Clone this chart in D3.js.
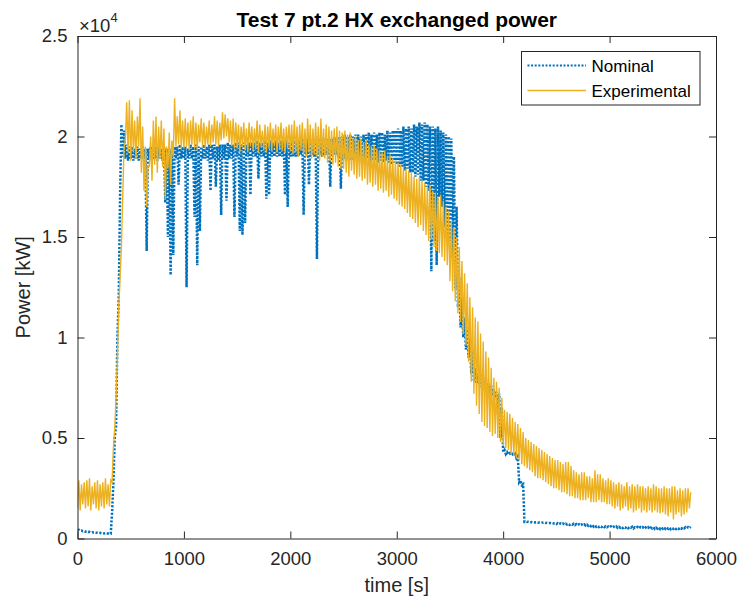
<!DOCTYPE html>
<html>
<head>
<meta charset="utf-8">
<script src="https://cdn.jsdelivr.net/npm/d3@7"></script>
<style>
  body { margin: 0; background: #fff; }
  svg { font-family: "Liberation Sans", Arial, Helvetica, sans-serif; }
</style>
</head>
<body>
<div id="chart"></div>
<script>
// both series are read in 25 s bins: the low and the high value seen in each bin
const timeStep = 25;

// Nominal HX power [kW]
const nominalLow = [
  420, 390, 360, 340, 320, 305, 295, 285, 275, 265, 255, 245, 235, 1300, 5000, 10000, 17000, 19000, 18900, 18800,
  18900, 18800, 18900, 18800, 18900, 18900, 14300, 18900, 18800, 18900, 18800, 18900, 18800, 16700, 15000, 13100, 14100, 18900, 17600, 18900,
  18900, 12500, 18900, 18900, 16000, 13600, 15300, 18900, 18900, 18800, 17300, 18900, 17500, 18800, 16100, 18900, 16800, 18900, 18900, 16000,
  19000, 15300, 15100, 15700, 19000, 17100, 19000, 19000, 17900, 19000, 19000, 16900, 17100, 19000, 19000, 19000, 19000, 19000, 17100, 16500,
  19000, 19000, 19000, 19000, 19100, 16100, 19100, 17600, 19100, 19000, 13900, 19100, 19000, 19100, 19100, 17500, 19100, 19100, 19000, 17400,
  18900, 18800, 18900, 18800, 18900, 18800, 18900, 18700, 18800, 18900, 18700, 18800, 18800, 18700, 18800, 18700, 18800, 18700, 18600, 18700,
  18600, 18500, 18500, 18300, 18400, 18200, 18200, 18000, 18100, 17800, 17800, 17500, 17300, 13300, 14800, 13600, 17000, 16500, 15500, 15000,
  14800, 14000, 12400, 11500, 10500, 10000, 9400, 9000, 8200, 7800, 7700, 7700, 7500, 7400, 7300, 7200, 7100, 7000, 6200, 5000,
  4300, 4200, 4200, 4150, 4100, 4000, 2800, 2650, 830, 820, 810, 800, 800, 790, 790, 780, 770, 770, 760, 750,
  720, 710, 710, 700, 700, 680, 690, 670, 660, 660, 650, 640, 630, 610, 590, 580, 570, 570, 560, 560,
  550, 540, 550, 530, 540, 520, 530, 510, 530, 500, 520, 500, 510, 490, 500, 480, 500, 480, 490, 470,
  480, 470, 480, 460, 480, 470, 480, 490, 500, 510, 520
];
const nominalHigh = [
  430, 400, 370, 350, 330, 315, 300, 290, 280, 270, 260, 250, 240, 2800, 5600, 12000, 20600, 20300, 19600, 19500,
  19500, 19400, 19500, 19400, 19500, 19400, 19400, 19500, 19400, 19500, 19500, 19400, 19500, 19400, 19400, 19300, 19500, 19500, 19600, 19500,
  19500, 19400, 19600, 19500, 19600, 19500, 19500, 19600, 19500, 19600, 19600, 19600, 19500, 19600, 19600, 19600, 19700, 19600, 19600, 19700,
  19700, 19600, 19700, 19600, 19700, 19700, 19700, 19800, 19700, 19700, 19800, 19700, 19800, 19700, 19800, 19700, 19800, 19800, 19800, 19700,
  19800, 19800, 19900, 19800, 19900, 19800, 19900, 19800, 19900, 19800, 19900, 19900, 19900, 19900, 19900, 19900, 20000, 19900, 20000, 20000,
  20100, 20000, 20100, 20000, 20100, 20100, 20000, 20100, 20100, 20200, 20100, 20200, 20100, 20200, 20200, 20100, 20300, 20200, 20300, 20300,
  20400, 20300, 20500, 20400, 20500, 20400, 20600, 20500, 20700, 20600, 20700, 20600, 20500, 20500, 20400, 20500, 20300, 20200, 20100, 20000,
  19900, 19000, 16500, 13000, 12000, 11000, 10500, 10000, 9400, 8500, 8200, 8200, 8000, 7900, 7700, 7600, 7400, 7300, 7200, 6500,
  4400, 4300, 4250, 4200, 4200, 4100, 2900, 2700, 850, 830, 820, 810, 810, 800, 800, 790, 780, 775, 770, 760,
  760, 750, 750, 740, 740, 730, 730, 720, 710, 700, 700, 690, 680, 670, 650, 630, 620, 620, 610, 600,
  600, 590, 600, 580, 590, 570, 580, 570, 580, 560, 570, 560, 560, 550, 560, 540, 560, 540, 550, 540,
  550, 530, 540, 520, 540, 530, 540, 550, 560, 570, 580
];

// Experimental HX power [kW]
const experimentalLow = [
  1500, 1400, 1700, 1500, 1600, 1400, 1700, 1500, 1400, 1600, 1500, 1700, 1600, 2800, 5500, 9000, 13000, 17000, 19800, 19200,
  18800, 19200, 18900, 19500, 18200, 17300, 16500, 18500, 17800, 18600, 18200, 18900, 18500, 16900, 18400, 17600, 19000, 19500, 19600, 19400,
  19400, 19500, 19300, 19600, 19400, 19300, 19700, 19500, 19400, 19600, 19500, 19700, 19600, 19500, 19800, 19900, 20000, 19700, 19500, 19400,
  19400, 19200, 19500, 19300, 19200, 19500, 19300, 19400, 19200, 19500, 19300, 19200, 19400, 19300, 19500, 19200, 19400, 19300, 19200, 19400,
  19300, 19100, 19200, 19000, 19300, 19100, 19000, 19200, 18900, 19100, 19000, 18800, 19000, 18900, 18700, 18800, 18600, 18700, 18500, 18400,
  18400, 18200, 18000, 18300, 18100, 17900, 18000, 17800, 17900, 17600, 17700, 17500, 17600, 17300, 17400, 17200, 17300, 17000, 17100, 16900,
  16800, 16600, 16500, 16400, 16200, 16000, 15900, 15700, 15500, 15600, 15300, 15100, 14800, 14900, 14500, 14300, 14200, 14000, 13800, 13600,
  12800, 12300, 11800, 11200, 10800, 10200, 9600, 8800, 7800, 7200, 6600, 6200, 5800, 5600, 5500, 5300, 5100, 5200, 5000, 4800,
  4600, 4500, 4400, 4200, 4100, 4000, 3900, 3700, 3600, 3500, 3400, 3300, 3100, 3000, 3000, 2900, 2800, 2700, 2600, 2500,
  2500, 2400, 2300, 2300, 2200, 2100, 2100, 2000, 2000, 1900, 1900, 1900, 2000, 1800, 1800, 1800, 1900, 1800, 1800, 1700,
  1700, 1600, 1500, 1600, 1400, 1500, 1600, 1400, 1500, 1300, 1400, 1500, 1300, 1400, 1300, 1400, 1300, 1400, 1300, 1250,
  1300, 1200, 1100, 1300, 950, 1200, 1300, 1100, 1200, 1300, 1500
];
const experimentalHigh = [
  2900, 2700, 2800, 2900, 3000, 2600, 2800, 2900, 2700, 2800, 3000, 2700, 2900, 4500, 7000, 11500, 14500, 19500, 21700, 21800,
  21300, 20800, 21000, 21900, 20500, 19500, 18500, 20000, 20800, 21000, 20500, 20800, 20400, 19500, 20200, 19800, 21900, 21000, 21300, 20800,
  20900, 20700, 20800, 21000, 20700, 20600, 20900, 20700, 20500, 20800, 20600, 21000, 20800, 20700, 21200, 21100, 20900, 20800, 20900, 20700,
  20600, 20500, 20700, 20400, 20700, 20500, 20400, 20800, 20600, 20300, 20600, 20500, 20700, 20400, 20600, 20500, 20700, 20400, 20500, 20600,
  20600, 20800, 20500, 20600, 20700, 20400, 20900, 20600, 20400, 20700, 20500, 20900, 20400, 20600, 20500, 20300, 20400, 20500, 20300, 20200,
  20300, 20100, 20200, 19900, 20000, 19800, 19900, 19700, 19800, 19600, 19500, 19600, 19400, 19300, 19200, 19300, 19000, 19100, 18900, 18800,
  18700, 18600, 18500, 18400, 18300, 18200, 18000, 17900, 18000, 17800, 17700, 17500, 17600, 17300, 17200, 17000, 17100, 16800, 16500, 16300,
  15800, 15500, 15000, 14500, 13800, 13200, 12700, 12000, 11500, 11000, 10800, 10200, 9800, 9300, 9000, 8500, 8000, 7800, 7500, 7000,
  6400, 6300, 6200, 6000, 5800, 5700, 5500, 5300, 5000, 4900, 4800, 4700, 4600, 4500, 4400, 4300, 4200, 4100, 4000, 3900,
  3900, 3800, 3700, 3800, 3800, 3600, 3400, 3300, 3200, 3300, 3300, 3100, 3100, 3000, 3400, 3200, 3200, 3000, 2900, 3000,
  2900, 2800, 2700, 2800, 2700, 2600, 2800, 2600, 2700, 2600, 2700, 2600, 2600, 2500, 2600, 2500, 2700, 2600, 2500, 2500,
  2600, 2500, 2500, 2600, 2600, 2400, 2500, 2400, 2500, 2500, 2300
];

const xTicks = [0, 1000, 2000, 3000, 4000, 5000, 6000];
const yTicks = [0, 5000, 10000, 15000, 20000, 25000];
const yTickLabels = ["0", "0.5", "1", "1.5", "2", "2.5"];
const seriesNames = ["Nominal", "Experimental"];

const W = 739, H = 602;
const margin = { top: 36, right: 23, bottom: 63.5, left: 77.5 };
const axisColor = "#262626";
const blue = "#0072BD", yellow = "#EDB120";

const svg = d3.select("#chart").append("svg")
    .attr("width", W).attr("height", H)
    .attr("viewBox", [0, 0, W, H]);

const x = d3.scaleLinear().domain([0, 6000]).range([margin.left, W - margin.right]);
const y = d3.scaleLinear().domain([0, 25000]).range([H - margin.bottom, margin.top]);

svg.append("defs").append("clipPath").attr("id", "plot-clip")
    .append("rect")
    .attr("x", margin.left).attr("y", margin.top)
    .attr("width", x.range()[1] - margin.left).attr("height", y.range()[0] - margin.top);

// each bin gives its low value at the bin start and its high value half a step later
const toPoints = (low, high) => low.flatMap((v, i) => [
    { t: i * timeStep, v },
    { t: i * timeStep + timeStep / 2, v: high[i] }
]);
const line = d3.line().x(d => x(d.t)).y(d => y(d.v));

const plot = svg.append("g").attr("clip-path", "url(#plot-clip)");
plot.append("path").datum(toPoints(nominalLow, nominalHigh))
    .attr("fill", "none").attr("stroke", blue).attr("stroke-width", 2.5)
    .attr("stroke-dasharray", "2.2,1.6").attr("d", line);
plot.append("path").datum(toPoints(experimentalLow, experimentalHigh))
    .attr("fill", "none").attr("stroke", yellow).attr("stroke-width", 1.4)
    .attr("d", line);

// axes, MATLAB style: ticks inside, box on
function styleAxis(g) {
    g.select(".domain").attr("stroke", axisColor).attr("stroke-width", 1);
    g.selectAll(".tick line").attr("stroke", axisColor).attr("stroke-width", 1);
    g.selectAll(".tick text").attr("fill", axisColor).attr("font-size", "18.5px");
}

svg.append("g").attr("transform", `translate(0,${y(0)})`)
    .call(d3.axisBottom(x).tickValues(xTicks).tickFormat(d3.format("d")).tickSizeInner(-7).tickSizeOuter(0).tickPadding(13))
    .call(styleAxis)
    .call(g => g.attr("font-family", null));
svg.append("g").attr("transform", `translate(0,${y(25000)})`)
    .call(d3.axisTop(x).tickValues(xTicks).tickFormat("").tickSizeInner(-7).tickSizeOuter(0))
    .call(styleAxis);
svg.append("g").attr("transform", `translate(${x(0)},0)`)
    .call(d3.axisLeft(y).tickValues(yTicks).tickFormat((d, i) => yTickLabels[i]).tickSizeInner(-7).tickSizeOuter(0).tickPadding(10))
    .call(styleAxis)
    .call(g => g.attr("font-family", null));
svg.append("g").attr("transform", `translate(${x(6000)},0)`)
    .call(d3.axisRight(y).tickValues(yTicks).tickFormat("").tickSizeInner(-7).tickSizeOuter(0))
    .call(styleAxis);

// exponent label
const expo = svg.append("text").attr("x", 79).attr("y", 31.5)
    .attr("fill", axisColor).attr("font-size", "18.5px");
expo.append("tspan").text("\u00d710");
expo.append("tspan").attr("font-size", "13px").attr("dy", -10).text("4");

// title and axis labels
const midX = (x.range()[0] + x.range()[1]) / 2;
svg.append("text").attr("x", midX).attr("y", 27)
    .attr("text-anchor", "middle").attr("font-weight", "bold").attr("font-size", "21px")
    .attr("fill", "#000").text("Test 7 pt.2 HX exchanged power");
svg.append("text").attr("x", midX).attr("y", 592)
    .attr("text-anchor", "middle").attr("font-size", "20px").attr("fill", axisColor)
    .text("time [s]");
svg.append("text")
    .attr("transform", `translate(30,${(y.range()[0] + y.range()[1]) / 2}) rotate(-90)`)
    .attr("text-anchor", "middle").attr("font-size", "20px").attr("fill", axisColor)
    .text("Power [kW]");

// legend
const legend = svg.append("g").attr("transform", "translate(521.5,51.5)");
legend.append("rect").attr("width", 178.5).attr("height", 53.5)
    .attr("fill", "#fff").attr("stroke", axisColor).attr("stroke-width", 1);
const styles = [
    { color: blue, width: 2.2, dash: "2,1.6" },
    { color: yellow, width: 1.3, dash: null }
];
seriesNames.forEach((name, i) => {
    const row = legend.append("g").attr("transform", `translate(0,${14 + i * 25})`);
    row.append("line").attr("x1", 6).attr("x2", 64.5)
        .attr("stroke", styles[i].color).attr("stroke-width", styles[i].width)
        .attr("stroke-dasharray", styles[i].dash);
    row.append("text").attr("x", 70).attr("dy", "0.36em")
        .attr("font-size", "17px").attr("fill", "#000").text(name);
});
</script>
</body>
</html>
